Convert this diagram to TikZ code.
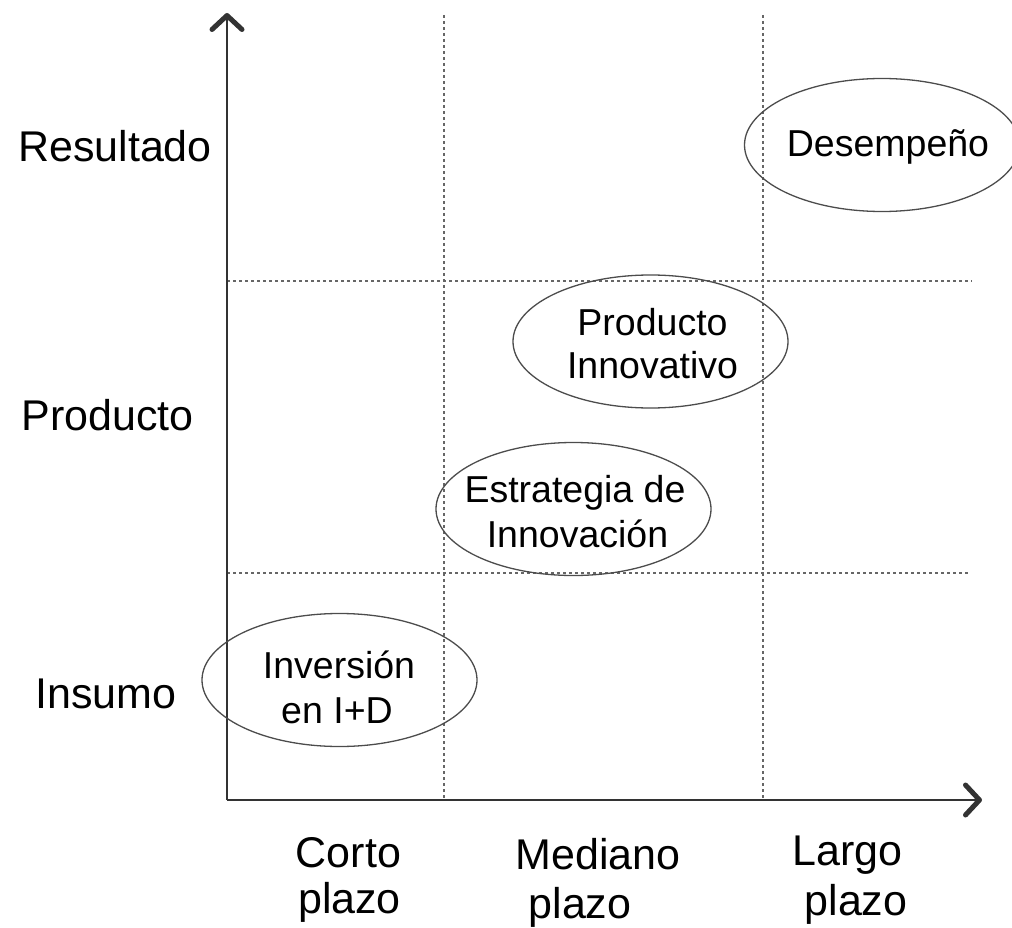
\documentclass[tikz,border=0pt]{standalone}
\usepackage{fontspec}
\setmainfont{Liberation Sans}
\usetikzlibrary{shapes.geometric,arrows.meta}
\begin{document}
\begin{tikzpicture}[x=1pt,y=-1pt,
  grid/.style={draw=black!60, line width=1.2pt, dash pattern=on 3pt off 3pt},
  axis/.style={draw=black!80, line width=1.6pt, -{Straight Barb[length=14pt,width=30pt,line width=5pt,round]}},
  oval/.style={ellipse, draw=black!70, line width=1.3pt, minimum width=275pt, minimum height=133pt, inner sep=0pt},
  lab/.style={anchor=base, font=\fontsize{43}{46}\selectfont, inner sep=0pt},
  otext/.style={anchor=base, font=\fontsize{37.5}{43}\selectfont, inner sep=0pt}]
\useasboundingbox (0,0) rectangle (1012,928);
\clip (0,0) rectangle (1012,928);
% grid coordinates
\coordinate (v1t) at (444,15);  \coordinate (v1b) at (444,800);
\coordinate (v2t) at (763,15);  \coordinate (v2b) at (763,800);
\coordinate (h1l) at (227,281); \coordinate (h1r) at (972,281);
\coordinate (h2l) at (227,573); \coordinate (h2r) at (968,573);
\draw[grid] (v1t) -- (v1b);
\draw[grid] (v2t) -- (v2b);
\draw[grid] (h1l) -- (h1r);
\draw[grid] (h2l) -- (h2r);
% axes
\coordinate (O) at (227,800);
\coordinate (ytop) at (227,13);
\coordinate (xend) at (982,800);
\draw[axis] (O) -- (ytop);
\draw[axis] (O) -- (xend);
% ellipses
\node[oval] (des) at (882,145) {};
\node[oval] (pin) at (650.5,341.5) {};
\node[oval] (est) at (573.5,509) {};
\node[oval] (inv) at (339.5,680) {};
% ellipse texts
\node[otext] (t1) at (888,157) {Desempeño};
\node[otext] (t2) at (652.5,335) {Producto};
\node[otext] (t3) at (652.5,378) {Innovativo};
\node[otext] (t4) at (575,502) {Estrategia de};
\node[otext] (t5) at (577.5,547) {Innovación};
\node[otext] (t6) at (339,678) {Inversión};
\node[otext] (t7) at (337,723) {en I+D};
% axis labels
\node[lab] (res) at (115,162) {Resultado};
\node[lab] (pro) at (107.5,430) {Producto};
\node[lab] (ins) at (106,708) {Insumo};
\node[lab] (c1) at (348.5,867) {Corto};
\node[lab] (c2) at (349.5,913) {plazo};
\node[lab] (m1) at (598,869) {Mediano};
\node[lab] (m2) at (580,918) {plazo};
\node[lab] (l1) at (847.5,865) {Largo};
\node[lab] (l2) at (856,915) {plazo};
\end{tikzpicture}
\end{document}
